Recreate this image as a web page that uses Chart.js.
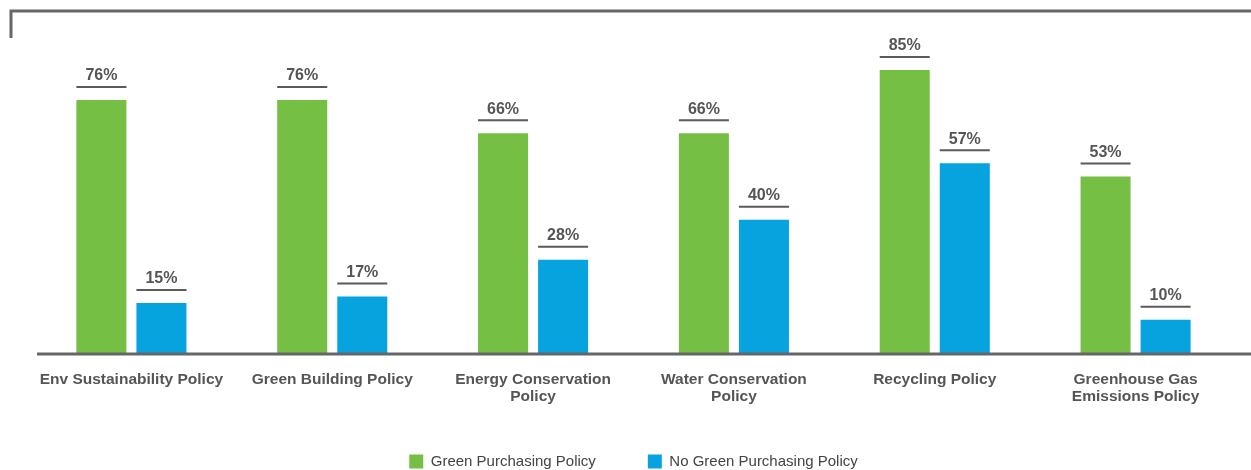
<!DOCTYPE html>
<html>
<head>
<meta charset="utf-8">
<script src="https://cdn.jsdelivr.net/npm/chart.js@4"></script>
<style>
html,body{margin:0;padding:0;background:#fff;}
#wrap{width:1251px;height:470px;position:relative;}
</style>
</head>
<body>
<div id="wrap"><canvas id="c" width="1251" height="470"></canvas></div>
<script>
const categories = [
  'Env Sustainability Policy',
  'Green Building Policy',
  ['Energy Conservation', 'Policy'],
  ['Water Conservation', 'Policy'],
  'Recycling Policy',
  ['Greenhouse Gas', 'Emissions Policy']
];
const seriesNames = ['Green Purchasing Policy', 'No Green Purchasing Policy'];
const greenValues = [76, 76, 66, 66, 85, 53];
const blueValues = [15, 17, 28, 40, 57, 10];

const FONT = '"Liberation Sans", Arial, sans-serif';
const TEXT = '#555555';

const decor = {
  id: 'decor',
  beforeDraw(chart) {
    // let the two-line category labels run below the axis box
    if (chart.scales.x) chart.scales.x._computeLabelArea = () => undefined;
    const ctx = chart.ctx;
    ctx.save();
    ctx.strokeStyle = '#666666';
    ctx.lineWidth = 3;
    ctx.beginPath();
    ctx.moveTo(11, 38);
    ctx.lineTo(11, 11);
    ctx.lineTo(chart.width, 11);
    ctx.stroke();
    ctx.restore();
  },
  afterDatasetsDraw(chart) {
    const ctx = chart.ctx;
    const a = chart.chartArea;
    ctx.save();
    ctx.strokeStyle = '#666666';
    ctx.lineWidth = 3;
    ctx.beginPath();
    ctx.moveTo(a.left + 6, a.bottom + 1);
    ctx.lineTo(chart.width, a.bottom + 1);
    ctx.stroke();
    chart.data.datasets.forEach((ds, di) => {
      const meta = chart.getDatasetMeta(di);
      meta.data.forEach((bar, i) => {
        const w = bar.width;
        const ly = bar.y - 13;
        ctx.strokeStyle = '#5a5a5a';
        ctx.lineWidth = 2;
        ctx.beginPath();
        ctx.moveTo(bar.x - w / 2, ly);
        ctx.lineTo(bar.x + w / 2, ly);
        ctx.stroke();
        ctx.fillStyle = TEXT;
        ctx.font = 'bold 16px ' + FONT;
        ctx.textAlign = 'center';
        ctx.textBaseline = 'middle';
        ctx.fillText(ds.data[i] + '%', bar.x, ly - 11);
      });
    });
    ctx.restore();
  }
};

new Chart(document.getElementById('c'), {
  type: 'bar',
  data: {
    labels: categories,
    datasets: [
      { label: seriesNames[0], data: greenValues, backgroundColor: '#74BF44', categoryPercentage: 0.598, barPercentage: 0.833 },
      { label: seriesNames[1], data: blueValues, backgroundColor: '#07A3DF', categoryPercentage: 0.598, barPercentage: 0.833 }
    ]
  },
  options: {
    responsive: false,
    animation: false,
    layout: { padding: { left: 31, right: 15, top: 20, bottom: -9 } },
    plugins: {
      legend: {
        position: 'bottom',
        labels: {
          boxWidth: 14, boxHeight: 14, padding: 52,
          color: '#444444',
          font: { family: FONT, size: 15 }
        }
      },
      tooltip: { enabled: false }
    },
    scales: {
      x: {
        grid: { display: false, drawTicks: false },
        border: { display: false },
        ticks: {
          color: TEXT, padding: 18, maxRotation: 0, autoSkip: false,
          font: { family: FONT, size: 15.5, weight: 'bold', lineHeight: 1.1 }
        },
        afterFit(scale) { scale.height = 49; }
      },
      y: {
        display: false,
        min: 0, max: 100
      }
    }
  },
  plugins: [decor]
});
</script>
</body>
</html>
